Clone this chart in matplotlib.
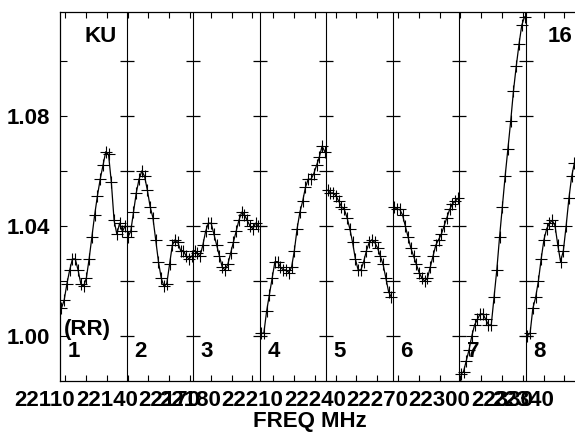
import matplotlib
matplotlib.use("Agg")
import matplotlib.pyplot as plt
import numpy as np

plt.rcParams['font.family'] = ['Liberation Sans', 'DejaVu Sans']
plt.rcParams['font.weight'] = 'bold'

# ---- data -------------------------------------------------------------
panel_starts = [22117.5, 22149.5, 22181.5, 22213.5, 22245.5, 22277.5, 22309.5, 22341.5]
panel_width = 32.0
n_chan = 24
panel_names = ["1", "2", "3", "4", "5", "6", "7", "8"]

p1 = [1.010, 1.013, 1.019, 1.024, 1.028, 1.028, 1.024, 1.019, 1.018, 1.021, 1.028, 1.036,
      1.044, 1.051, 1.057, 1.062, 1.067, 1.066, 1.056, 1.042, 1.037, 1.041, 1.038, 1.040]
p2 = [1.036, 1.038, 1.045, 1.052, 1.057, 1.060, 1.058, 1.053, 1.047, 1.043, 1.035, 1.027,
      1.021, 1.018, 1.019, 1.026, 1.033, 1.035, 1.034, 1.031, 1.031, 1.029, 1.028, 1.029]
p3 = [1.031, 1.030, 1.029, 1.033, 1.038, 1.041, 1.041, 1.037, 1.033, 1.029, 1.025, 1.024,
      1.026, 1.030, 1.034, 1.038, 1.042, 1.045, 1.044, 1.042, 1.040, 1.039, 1.041, 1.040]
p4 = [1.001, 1.001, 1.009, 1.015, 1.021, 1.027, 1.027, 1.025, 1.024, 1.024, 1.023, 1.025,
      1.031, 1.039, 1.045, 1.049, 1.054, 1.057, 1.057, 1.059, 1.062, 1.065, 1.069, 1.067]
p5 = [1.053, 1.052, 1.052, 1.051, 1.049, 1.047, 1.046, 1.043, 1.039, 1.034, 1.028, 1.024,
      1.024, 1.027, 1.031, 1.034, 1.035, 1.034, 1.032, 1.029, 1.026, 1.021, 1.016, 1.014]
p6 = [1.047, 1.046, 1.046, 1.044, 1.040, 1.036, 1.032, 1.029, 1.026, 1.023, 1.021, 1.020,
      1.021, 1.025, 1.029, 1.033, 1.035, 1.037, 1.040, 1.043, 1.046, 1.048, 1.049, 1.050]
p7 = [0.986, 0.987, 0.991, 0.995, 1.000, 1.004, 1.006, 1.008, 1.008, 1.006, 1.004, 1.004,
      1.014, 1.024, 1.036, 1.047, 1.058, 1.068, 1.078, 1.089, 1.098, 1.106, 1.113, 1.116]
p8 = [1.000, 1.001, 1.010, 1.014, 1.020, 1.028, 1.035, 1.039, 1.041, 1.042, 1.040, 1.033,
      1.027, 1.031, 1.040, 1.050, 1.058, 1.063]
panels = [p1, p2, p3, p4, p5, p6, p7, p8]

xtick_label_vals = [22110, 22140, 22170, 22180, 22210, 22240, 22270, 22300, 22330, 22340]
ytick_vals = [1.00, 1.02, 1.04, 1.06, 1.08, 1.10]
ytick_labels = ["1.00", "", "1.04", "", "1.08", ""]

# ---- figure -----------------------------------------------------------
W, H = 575, 434
fig = plt.figure(figsize=(W / 100, H / 100), dpi=100)
ax = fig.add_axes([60 / W, (H - 381) / H, (W - 60) / W, (381 - 12) / H])

xmin = panel_starts[0]
xmax = xmin + (W - 60) / 2.08
ymin, ymax = 0.9836, 1.1178
ax.set_xlim(xmin, xmax)
ax.set_ylim(ymin, ymax)

for start, vals in zip(panel_starts, panels):
    step = panel_width / n_chan
    xs = start + (np.arange(len(vals)) + 0.5) * step
    ax.plot(xs, vals, color='black', lw=0.9, marker='+', markersize=8.5,
            markeredgewidth=0.8, clip_on=True, zorder=3)

# panel dividers with cross ticks
for start in panel_starts[1:]:
    ax.axvline(start, color='black', lw=0.8, zorder=2)
    ax.plot([start] * len(ytick_vals), ytick_vals, linestyle='none', marker='_',
            markersize=10, markeredgewidth=0.9, color='black', zorder=2)

for sp in ['left', 'top', 'bottom']:
    ax.spines[sp].set_linewidth(0.9)
ax.spines['right'].set_visible(False)

ax.set_xticks(np.arange(22120, 22370, 10))
ax.tick_params(axis='x', direction='in', top=True, bottom=True, length=4,
               width=0.8, labelbottom=False)
ax.set_yticks(ytick_vals)
ax.set_yticklabels(ytick_labels, fontsize=16, fontweight='bold')
ax.tick_params(axis='y', direction='in', left=True, right=False, length=5,
               width=0.8, pad=7)

# x tick labels (drawn as text so out-of-range / overlapping ones show)
for v in xtick_label_vals:
    ax.text(v, -0.0515, str(v), transform=ax.get_xaxis_transform(),
            ha='center', va='center', fontsize=16, fontweight='bold', clip_on=False)

# panel numbers
for start, name in zip(panel_starts, panel_names):
    ax.text(start + 3.6, 0.9942, name, ha='left', va='center',
            fontsize=16, fontweight='bold')

ax.text(22117.5 + (101 - 60) / 2.08, 1.0 + (336 - 37) / 2750, "KU",
        ha='center', va='center', fontsize=16, fontweight='bold')
ax.text(22117.5 + (560 - 60) / 2.08, 1.0 + (336 - 37) / 2750, "16",
        ha='center', va='center', fontsize=16, fontweight='bold')
ax.text(22117.5 + (87 - 60) / 2.08, 1.0 + (336 - 330) / 2750, "(RR)",
        ha='center', va='center', fontsize=16, fontweight='bold')

fig.text(310 / W, 1 - 422 / H, "FREQ MHz", ha='center', va='center',
         fontsize=16, fontweight='bold')

fig.savefig("out.png", dpi=100)
